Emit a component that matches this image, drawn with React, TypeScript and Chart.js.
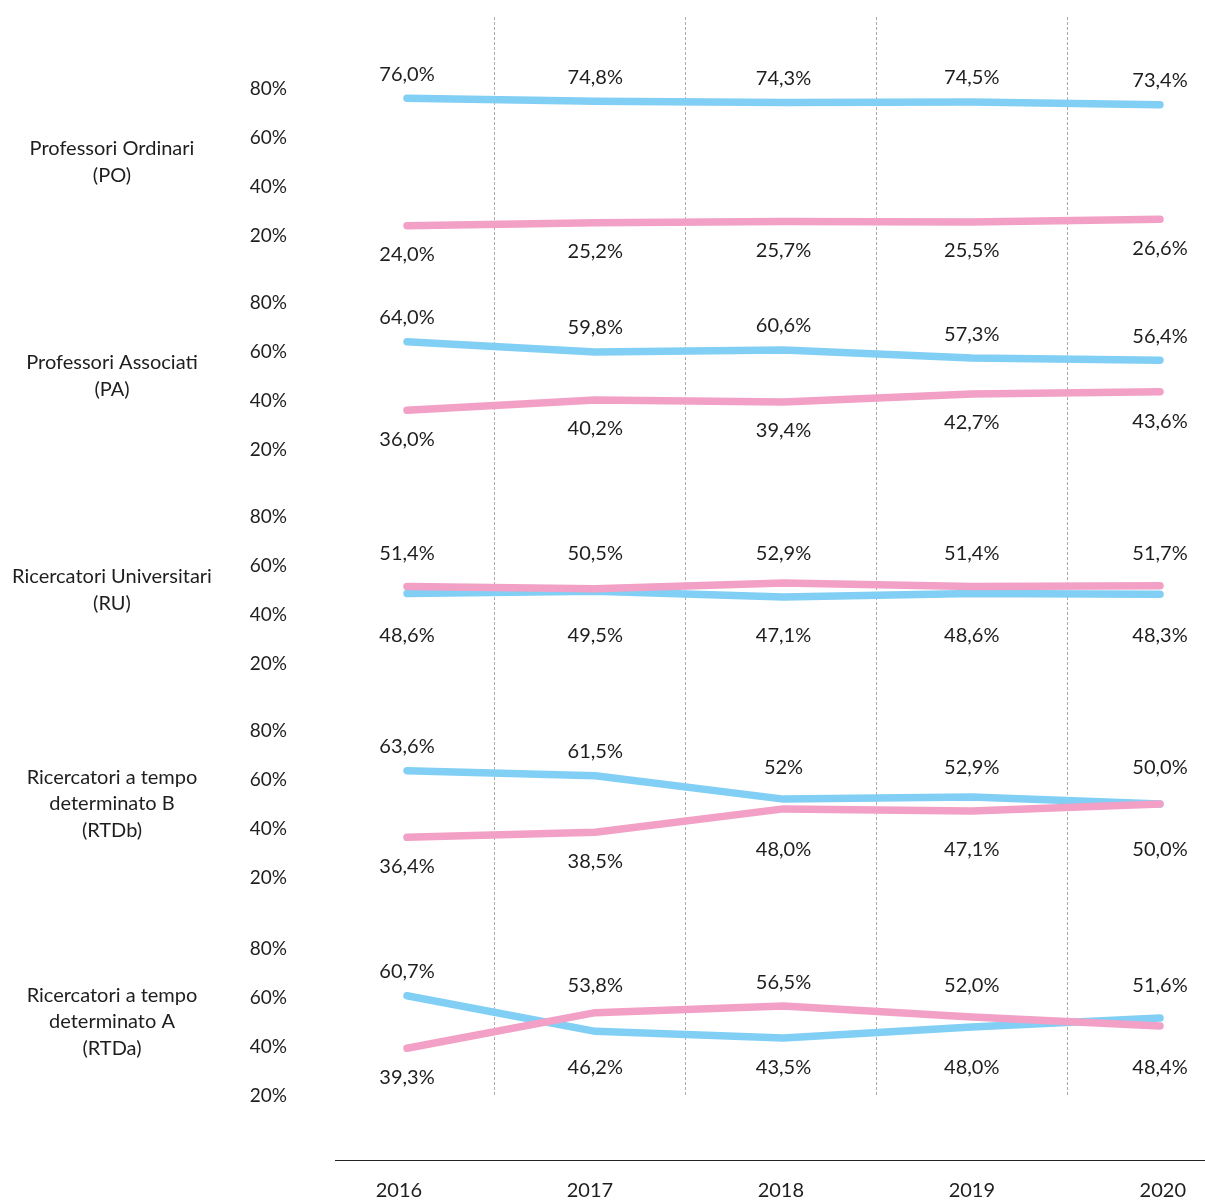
import { useEffect, useRef } from "react";
import { Chart, registerables } from "chart.js";

Chart.register(...registerables);

// ---- data ---------------------------------------------------------------
const years = [2016, 2017, 2018, 2019, 2020];
const gridYears = [2016.5, 2017.5, 2018.5, 2019.5];
const percentTicks = [20, 40, 60, 80];

const roleNames: string[][] = [
  ["Professori Ordinari", "(PO)"],
  ["Professori Associati", "(PA)"],
  ["Ricercatori Universitari", "(RU)"],
  ["Ricercatori a tempo", "determinato B", "(RTDb)"],
  ["Ricercatori a tempo", "determinato A", "(RTDa)"],
];

// shares (%) as printed, Italian decimal comma
const poUomini = ["76,0", "74,8", "74,3", "74,5", "73,4"];
const poDonne = ["24,0", "25,2", "25,7", "25,5", "26,6"];
const paUomini = ["64,0", "59,8", "60,6", "57,3", "56,4"];
const paDonne = ["36,0", "40,2", "39,4", "42,7", "43,6"];
const ruUomini = ["48,6", "49,5", "47,1", "48,6", "48,3"];
const ruDonne = ["51,4", "50,5", "52,9", "51,4", "51,7"];
const rtdbUomini = ["63,6", "61,5", "52", "52,9", "50,0"];
const rtdbDonne = ["36,4", "38,5", "48,0", "47,1", "50,0"];
const rtdaUomini = ["60,7", "46,2", "43,5", "48,0", "51,6"];
const rtdaDonne = ["39,3", "53,8", "56,5", "52,0", "48,4"];

const uomini = [poUomini, paUomini, ruUomini, rtdbUomini, rtdaUomini];
const donne = [poDonne, paDonne, ruDonne, rtdbDonne, rtdaDonne];

// ---- style & layout -----------------------------------------------------
const BLUE = "#81cff4";
const PINK = "#f2a0c6";
const INK = "#1e1e1e";
const FONT = "Lato, 'Noto Sans', sans-serif";

const W = 1205;
const H = 1200;
const AXIS_TOP = 1100;
const AXIS_H = 100;
const PLOT_LEFT = 335;
const PLOT_TOP = 17;
const PLOT_BOTTOM = 1097;
const ROW_TICK80 = [88.5, 302.5, 516.5, 730.5, 948.5]; // pixel of each row's 80% tick
const PX_PER_PT = 2.45;

const toNum = (s: string) => parseFloat(s.replace(",", "."));

// each row gets its own stacked y axis, centred on 50%
const centers = ROW_TICK80.map((p) => p + 30 * PX_PER_PT);
const edges = [
  PLOT_TOP,
  ...centers.slice(1).map((c, i) => (c + centers[i]) / 2),
  PLOT_BOTTOM,
];
const rowBands = centers.map((c, i) => ({
  min: 50 - (edges[i + 1] - c) / PX_PER_PT,
  max: 50 + (c - edges[i]) / PX_PER_PT,
  weight: edges[i + 1] - edges[i],
}));

// x ranges so that the first/last year land at the given pixels
function yearRange(firstPx: number, lastPx: number) {
  const step = (lastPx - firstPx) / (years.length - 1);
  return {
    min: years[0] - (firstPx - PLOT_LEFT) / step,
    max: years[years.length - 1] + (W - lastPx) / step,
  };
}
const axisRange = yearRange(399, 1163.5);
const lineRange = yearRange(407, 1160);

// ---- plugins ------------------------------------------------------------
const roleLabels = {
  id: "roleLabels",
  afterDraw(chart: any) {
    const ctx = chart.ctx;
    ctx.save();
    ctx.font = `20px ${FONT}`;
    ctx.fillStyle = INK;
    ctx.textAlign = "center";
    ctx.textBaseline = "middle";
    roleNames.forEach((lines, r) => {
      const mid = chart.scales["y" + r].getPixelForValue(50);
      const lh = 26.5;
      lines.forEach((t, k) => {
        ctx.fillText(t, 112, mid + (k - (lines.length - 1) / 2) * lh);
      });
    });
    ctx.restore();
  },
};

const valueLabels = {
  id: "valueLabels",
  afterDatasetsDraw(chart: any) {
    const ctx = chart.ctx;
    const xs = chart.scales.xl;
    ctx.save();
    ctx.font = `20px ${FONT}`;
    ctx.fillStyle = INK;
    ctx.textAlign = "center";
    ctx.textBaseline = "middle";
    uomini.forEach((row, r) => {
      const ys = chart.scales["y" + r];
      const mid = ys.getPixelForValue(50);
      years.forEach((yr, i) => {
        const a = row[i];
        const b = donne[r][i];
        const [hi, lo] = toNum(a) >= toNum(b) ? [a, b] : [b, a];
        const x = xs.getPixelForValue(yr);
        const yHi = Math.min(ys.getPixelForValue(toNum(hi)) - 24, mid - 36);
        const yLo = Math.max(ys.getPixelForValue(toNum(lo)) + 29, mid + 46);
        ctx.fillText(hi + "%", x, yHi);
        ctx.fillText(lo + "%", x, yLo);
      });
    });
    ctx.restore();
  },
};

// ---- component ----------------------------------------------------------
export default function App() {
  const mainRef = useRef<HTMLCanvasElement>(null);
  const axisRef = useRef<HTMLCanvasElement>(null);

  useEffect(() => {
    if (!mainRef.current || !axisRef.current) return;

    const yScales: any = {};
    rowBands.forEach((b, r) => {
      yScales["y" + r] = {
        type: "linear",
        position: "left",
        stack: "rows",
        stackWeight: b.weight,
        weight: rowBands.length - r,
        min: b.min,
        max: b.max,
        bounds: "data",
        afterBuildTicks: (s: any) => {
          s.ticks = percentTicks.map((v) => ({ value: v }));
        },
        afterFit: (s: any) => {
          s.width = PLOT_LEFT;
          // labels sit well inside each band; no extra room needed above/below
          s.paddingTop = 0;
          s.paddingBottom = 0;
        },
        ticks: {
          callback: (v: any) => `${v}%`,
          font: { family: FONT, size: 19 },
          color: INK,
          padding: 48,
        },
        grid: { display: false, drawTicks: false },
        border: { display: false },
      };
    });

    const datasets: any[] = [];
    uomini.forEach((row, r) => {
      datasets.push({
        label: "Donne",
        data: years.map((yr, i) => ({ x: yr, y: toNum(donne[r][i]) })),
        borderColor: PINK,
        order: 0,
        xAxisID: "xl",
        yAxisID: "y" + r,
      });
      datasets.push({
        label: "Uomini",
        data: years.map((yr, i) => ({ x: yr, y: toNum(row[i]) })),
        borderColor: BLUE,
        order: 1,
        xAxisID: "xl",
        yAxisID: "y" + r,
      });
    });
    datasets.forEach((d) => {
      d.borderWidth = 7.5;
      d.pointRadius = 0;
      d.tension = 0;
      d.fill = false;
      d.borderCapStyle = "round";
      d.borderJoinStyle = "round";
    });

    const main = new Chart(mainRef.current, {
      type: "line",
      data: { datasets },
      options: {
        responsive: false,
        animation: false,
        layout: { padding: { top: PLOT_TOP, bottom: H - PLOT_BOTTOM, left: 0, right: 0 } },
        plugins: { legend: { display: false }, tooltip: { enabled: false } },
        scales: {
          x: {
            type: "linear",
            position: "bottom",
            min: axisRange.min,
            max: axisRange.max,
            bounds: "data",
            afterBuildTicks: (s: any) => {
              s.ticks = gridYears.map((v) => ({ value: v }));
            },
            afterFit: (s: any) => {
              s.height = 0;
            },
            ticks: { display: false },
            grid: { color: "#ababab", lineWidth: 1, drawTicks: false },
            border: { display: false, dash: [3, 2] },
          },
          xl: {
            type: "linear",
            display: false,
            min: lineRange.min,
            max: lineRange.max,
            bounds: "data",
          },
          ...yScales,
        },
      } as any,
      plugins: [roleLabels, valueLabels],
    });

    const axis = new Chart(axisRef.current, {
      type: "line",
      data: { datasets: [] },
      options: {
        responsive: false,
        animation: false,
        layout: { padding: { left: PLOT_LEFT, right: 0, top: 0, bottom: 0 } },
        plugins: { legend: { display: false }, tooltip: { enabled: false } },
        scales: {
          x: {
            type: "linear",
            position: "bottom",
            min: axisRange.min,
            max: axisRange.max,
            bounds: "data",
            afterBuildTicks: (s: any) => {
              s.ticks = years.map((v) => ({ value: v }));
            },
            afterFit: (s: any) => {
              s.height = 40;
            },
            ticks: {
              callback: (v: any) => String(v),
              font: { family: FONT, size: 20 },
              color: INK,
              padding: 19,
              maxRotation: 0,
              autoSkip: false,
            },
            grid: { display: false, drawTicks: false },
            border: { display: true, color: "#222", width: 1 },
          },
          y: { display: false },
        },
      } as any,
    });

    return () => {
      main.destroy();
      axis.destroy();
    };
  }, []);

  return (
    <div
      style={{
        position: "absolute",
        left: 0,
        top: 0,
        width: W,
        height: H,
        overflow: "hidden",
        background: "#fff",
      }}
    >
      <canvas
        ref={mainRef}
        width={W}
        height={H}
        style={{ position: "absolute", left: 0, top: 0 }}
      />
      <canvas
        ref={axisRef}
        width={W}
        height={AXIS_H}
        style={{ position: "absolute", left: 0, top: AXIS_TOP }}
      />
    </div>
  );
}
